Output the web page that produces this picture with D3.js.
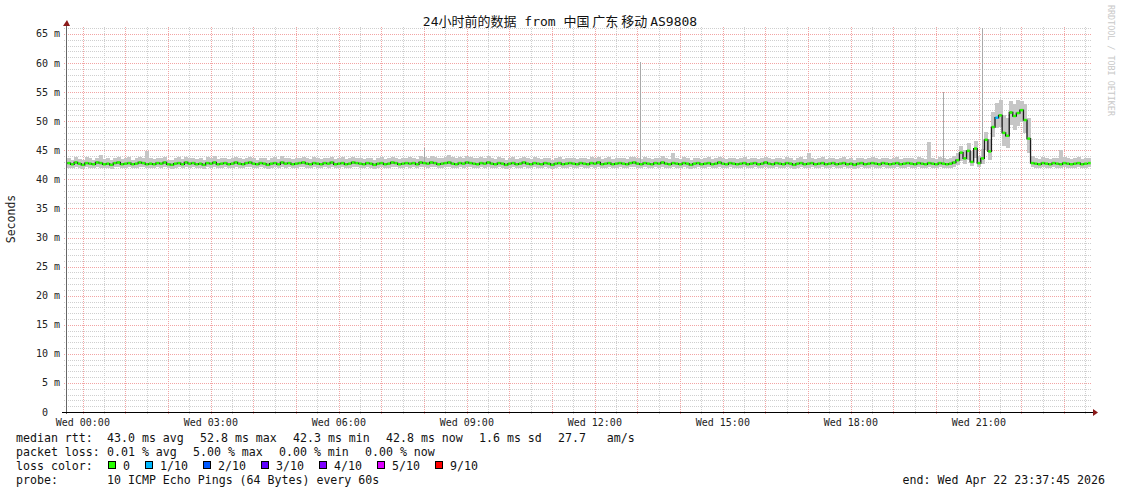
<!DOCTYPE html>
<html><head><meta charset="utf-8">
<script src="https://cdn.jsdelivr.net/npm/d3@7"></script>
<style>
body{margin:0;background:#fff}
text{white-space:pre}
</style>
</head><body>
<svg id="c" width="1121" height="494"></svg>
<script>
// ---------------- data ----------------
const titleParts = [["24","mono"],["小时前的数据","cjk"],[" from ","mono"],["中国 广东 移动 ","cjk"],["AS9808","mono"]];
const yAxisTitle = "Seconds";
const yTicks = [0,5,10,15,20,25,30,35,40,45,50,55,60,65];
const yTickNums = ["0","5","10","15","20","25","30","35","40","45","50","55","60","65"];
const stepMinutes = 5;
const endTimeText = "end: Wed Apr 22 23:37:45 2026";
// median rtt (ms), one value per 5 minutes, 24 h
const median = [
42.8,42.6,42.9,42.7,42.5,42.8,42.7,42.6,42.9,42.8,42.6,42.7,42.5,42.8,42.9,42.6,42.7,42.8,42.6,42.7,42.9,42.8,42.6,42.7,
42.6,42.8,42.7,42.9,42.6,42.5,42.7,42.8,42.6,42.9,42.7,42.8,42.6,42.7,42.5,42.8,42.7,42.9,42.6,42.7,42.8,42.6,42.7,42.9,
42.7,42.6,42.8,42.9,42.7,42.6,42.8,42.7,42.5,42.7,42.8,42.6,42.9,42.7,42.8,42.6,42.7,42.8,42.9,42.7,42.6,42.8,42.7,42.6,
42.8,42.7,42.9,42.6,42.7,42.8,42.6,42.7,42.9,42.8,42.7,42.6,42.8,42.7,42.5,42.7,42.8,42.6,42.7,42.9,42.8,42.6,42.7,42.8,
42.7,42.8,42.6,42.9,42.8,42.7,42.9,42.8,42.6,42.7,42.8,42.9,42.7,42.6,42.8,42.7,42.9,42.8,42.7,42.6,42.8,42.7,42.9,42.7,
42.6,42.8,42.7,42.5,42.7,42.8,42.6,42.7,42.9,42.7,42.6,42.8,42.7,42.6,42.8,42.7,42.5,42.7,42.8,42.6,42.7,42.8,42.7,42.6,
42.8,42.7,42.6,42.8,42.7,42.9,42.6,42.7,42.8,42.6,42.7,42.8,42.7,42.6,42.8,42.9,42.7,42.6,42.8,42.7,42.6,42.8,42.7,42.9,
42.7,42.6,42.8,42.7,42.6,42.8,42.7,42.5,42.7,42.8,42.6,42.7,42.8,42.6,42.7,42.9,42.7,42.6,42.8,42.7,42.6,42.7,42.8,42.6,
42.7,42.8,42.6,42.7,42.9,42.7,42.6,42.8,42.7,42.6,42.8,42.7,42.5,42.7,42.8,42.6,42.7,42.8,42.6,42.7,42.8,42.6,42.7,42.8,
42.6,42.7,42.8,42.6,42.7,42.5,42.7,42.8,42.6,42.7,42.8,42.7,42.6,42.8,42.7,42.6,42.7,42.8,42.6,42.7,42.8,42.7,42.6,42.8,
42.7,42.6,42.8,42.7,42.6,42.8,42.7,42.6,42.7,42.9,43.3,44.6,43.6,44.9,43.0,45.3,42.8,43.6,46.8,44.8,49.0,50.6,51.0,48.0,
47.5,51.5,50.9,51.4,51.9,50.2,47.0,42.8,42.7,42.6,42.8,42.7,42.6,42.8,42.7,42.6,42.8,42.7,42.6,42.7,42.8,42.6,42.7,42.8
];
// smoke: highest ping per interval (ms)
const smokeHi = [
43.6,43.4,43.8,43.5,43.3,43.9,43.6,43.4,43.7,44.2,43.5,43.6,43.4,43.7,43.9,43.5,43.6,43.8,43.4,43.6,43.9,43.7,44.8,43.6,
43.5,43.7,43.6,43.9,43.4,43.3,43.6,43.8,43.5,43.9,43.6,43.7,43.5,43.6,43.3,43.8,43.6,44.0,43.5,43.6,43.7,43.5,43.6,43.9,
43.6,43.5,43.7,43.9,43.6,43.4,43.7,43.6,43.4,43.6,43.8,43.5,44.0,43.6,43.7,43.5,43.6,43.7,43.9,43.6,43.5,43.8,43.6,43.5,
43.7,43.6,43.9,43.5,43.6,43.8,43.5,43.6,43.9,43.7,43.6,43.5,43.7,43.6,43.4,43.6,43.8,43.5,43.6,43.9,43.7,43.5,43.6,43.7,
43.8,43.7,43.5,44.0,43.9,43.7,44.1,43.9,43.6,43.7,43.9,44.2,43.8,43.6,43.9,43.7,44.0,43.9,43.7,43.6,43.8,43.7,44.0,43.6,
43.5,43.8,43.6,43.4,43.6,43.8,43.5,43.6,43.9,43.6,43.5,43.8,43.6,43.5,43.7,43.6,43.4,43.6,43.8,43.5,43.6,43.7,43.6,43.5,
43.7,43.6,43.5,43.8,43.6,43.9,43.5,43.6,43.8,43.5,43.6,43.7,43.6,43.5,43.8,43.9,43.6,43.5,43.8,43.6,43.5,43.7,43.6,44.0,
43.6,43.5,44.5,43.6,43.5,43.8,43.6,43.4,43.6,43.7,43.5,43.6,43.8,43.5,43.6,43.9,43.6,43.5,43.7,43.6,43.5,43.6,43.8,43.5,
43.6,43.7,43.5,43.6,43.9,43.6,43.5,43.7,43.6,43.5,43.8,43.6,43.4,43.6,43.8,43.5,44.6,43.7,43.5,43.6,43.8,43.5,43.6,43.7,
43.5,43.6,43.8,43.5,43.6,43.4,43.6,43.7,43.5,43.6,43.8,43.6,43.5,43.7,43.6,43.5,43.6,43.8,43.5,43.6,43.7,43.6,43.5,43.8,
43.6,43.5,46.4,43.6,43.5,43.8,43.6,43.5,43.7,44.0,44.6,45.8,45.0,46.3,44.8,46.6,44.0,45.2,48.2,47.0,51.5,53.2,53.6,51.0,
50.5,53.4,53.0,53.6,53.5,53.0,50.5,44.0,43.6,43.5,43.8,43.6,43.5,43.7,43.6,45.0,43.8,43.6,43.5,43.6,43.8,43.5,43.6,43.7
];
// smoke: lowest ping per interval (ms)
const smokeLo = [
42.0,41.9,42.1,42.0,41.8,42.1,42.0,41.9,42.2,42.0,41.9,42.0,41.8,42.1,42.1,41.9,42.0,42.1,41.9,42.0,42.2,42.1,41.9,42.0,
41.9,42.1,42.0,42.2,41.9,41.8,42.0,42.1,41.9,42.2,42.0,42.1,41.9,42.0,41.8,42.1,42.0,42.2,41.9,42.0,42.1,41.9,42.0,42.2,
42.0,41.9,42.1,42.2,42.0,41.9,42.1,42.0,41.8,42.0,42.1,41.9,42.2,42.0,42.1,41.9,42.0,42.1,42.2,42.0,41.9,42.1,42.0,41.9,
42.1,42.0,42.2,41.9,42.0,42.1,41.9,42.0,42.2,42.1,42.0,41.9,42.1,42.0,41.8,42.0,42.1,41.9,42.0,42.2,42.1,41.9,42.0,42.1,
42.0,42.1,41.9,42.2,42.1,42.0,42.2,42.1,41.9,42.0,42.1,42.2,42.0,41.9,42.1,42.0,42.2,42.1,42.0,41.9,42.1,42.0,42.2,42.0,
41.9,42.1,42.0,41.8,42.0,42.1,41.9,42.0,42.2,42.0,41.9,42.1,42.0,41.9,42.1,42.0,41.8,42.0,42.1,41.9,42.0,42.1,42.0,41.9,
42.1,42.0,41.9,42.1,42.0,42.2,41.9,42.0,42.1,41.9,42.0,42.1,42.0,41.9,42.1,42.2,42.0,41.9,42.1,42.0,41.9,42.1,42.0,42.2,
42.0,41.9,42.1,42.0,41.9,42.1,42.0,41.8,42.0,42.1,41.9,42.0,42.1,41.9,42.0,42.2,42.0,41.9,42.1,42.0,41.9,42.0,42.1,41.9,
42.0,42.1,41.9,42.0,42.2,42.0,41.9,42.1,42.0,41.9,42.1,42.0,41.8,42.0,42.1,41.9,42.0,42.1,41.9,42.0,42.1,41.9,42.0,42.1,
41.9,42.0,42.1,41.9,42.0,41.8,42.0,42.1,41.9,42.0,42.1,42.0,41.9,42.1,42.0,41.9,42.0,42.1,41.9,42.0,42.1,42.0,41.9,42.1,
42.0,41.9,42.1,42.0,41.9,42.1,42.0,41.9,42.0,42.2,42.4,43.2,42.6,43.4,42.3,43.6,42.1,42.6,45.0,43.4,47.2,48.8,49.0,45.8,
45.4,49.4,48.5,49.2,49.8,48.0,44.5,42.1,42.0,41.9,42.1,42.0,41.9,42.1,42.0,41.9,42.1,42.0,41.9,42.0,42.1,41.9,42.0,42.1
];
// intervals with packet loss (index, lost pings of 10)
const lossIdx = [261];
const lossVal = [1];
// single tall ping spikes (index, max ms)
const spikeIdx = [100, 161, 246, 257];
const spikeMax = [45.4, 60.2, 55.1, 66.0];
// legend
const lossLabels = ["0","1/10","2/10","3/10","4/10","5/10","9/10"];
const lossLevels = [0,1,2,3,4,5,9];
const lossColors = ["#26ff00","#00b8ff","#0059ff","#5e00ff","#7e00ff","#dd00ff","#ff0000"];
const statRows = [
 ["median rtt:", ["43.0 ms avg","52.8 ms max","42.3 ms min","42.8 ms now","1.6 ms sd","27.7   am/s"]],
 ["packet loss:", ["0.01 % avg","5.00 % max","0.00 % min","0.00 % now"]],
 ["loss color:", []],
 ["probe:", ["10 ICMP Echo Pings (64 Bytes) every 60s"]]
];

// ---------------- drawing ----------------
const MONO = "'DejaVu Sans Mono', monospace";
const CJK = "'Noto Sans CJK SC', sans-serif";
const svg = d3.select("#c");
svg.append("rect").attr("width",1121).attr("height",494).attr("fill","#fff");

const X0 = 67, X1 = 1091, Y0 = 412, Y1 = 27;
const t0 = new Date(2026,3,21,23,37,45), t1 = new Date(2026,3,22,23,37,45);
const x = d3.scaleTime().domain([t0,t1]).range([X0,X1]);
const y = d3.scaleLinear().domain([0,66.2]).range([Y0,Y1]);
const STEP = stepMinutes*60*1000;
const timeAt = i => new Date(+t0 + i*STEP);
const lossOf = i => { const k = lossIdx.indexOf(i); return k<0 ? 0 : lossVal[k]; };
const colorOf = l => lossColors[Math.max(0, lossLevels.indexOf(l))];
const cr = v => Math.round(v) + 0.5;

// grid
const grid = svg.append("g").attr("fill","none").attr("stroke-width",1).attr("stroke-dasharray","1,1").attr("shape-rendering","crispEdges");
const GRAY = "#cfcfcf", RED = "#f2a4a4";
for (let v = 1; v <= 66; v++) {
  if (v % 5 === 0) continue;
  grid.append("line").attr("x1",64).attr("x2",X1).attr("y1",cr(y(v))).attr("y2",cr(y(v))).attr("stroke",GRAY);
}
x.ticks(d3.timeMinute.every(30)).filter(t=>t.getMinutes()!==0).forEach(t=>{
  grid.append("line").attr("x1",cr(x(t))).attr("x2",cr(x(t))).attr("y1",Y1).attr("y2",Y0+2).attr("stroke",GRAY);
});
yTicks.filter(v=>v>0).forEach(v=>{
  grid.append("line").attr("x1",64).attr("x2",X1).attr("y1",cr(y(v))).attr("y2",cr(y(v))).attr("stroke",RED);
});
x.ticks(d3.timeHour.every(1)).forEach(t=>{
  grid.append("line").attr("x1",cr(x(t))).attr("x2",cr(x(t))).attr("y1",Y1).attr("y2",Y0+3).attr("stroke",RED);
});

// smoke
const smoke = svg.append("g").attr("shape-rendering","crispEdges");
median.forEach((m,i)=>{
  const xa = x(timeAt(i)), xb = x(timeAt(i+1));
  smoke.append("rect").attr("x",xa).attr("width",xb-xa+0.4)
    .attr("y",y(smokeHi[i])).attr("height",y(smokeLo[i])-y(smokeHi[i])).attr("fill","#c6c6c6");
});
// spikes
spikeIdx.forEach((idx,k)=>{
  const xx = cr(x(timeAt(idx))+1);
  svg.append("line").attr("x1",xx).attr("x2",xx).attr("y1",y(median[idx])).attr("y2",y(spikeMax[k]))
    .attr("stroke","#a9a9a9").attr("stroke-width",1).attr("shape-rendering","crispEdges");
});
// median connector (dark)
const medLine = d3.line().x((d,i)=>x(timeAt(i))).y(d=>y(d)).curve(d3.curveStepAfter);
svg.append("path").attr("d",medLine(median)).attr("fill","none").attr("stroke","#1a1a1a").attr("stroke-width",1.3);
// median bars coloured by loss
const med = svg.append("g");
median.forEach((m,i)=>{
  const xa = x(timeAt(i)), xb = x(timeAt(i+1));
  med.append("rect").attr("x",xa+0.3).attr("width",xb-xa-0.6).attr("y",y(m)-1.25).attr("height",2.5).attr("fill",colorOf(lossOf(i)));
});

// axes
svg.append("line").attr("x1",cr(X0)-1).attr("x2",cr(X0)-1).attr("y1",Y1-2).attr("y2",Y0+2)
  .attr("stroke","#666").attr("stroke-width",1).attr("shape-rendering","crispEdges");
svg.append("line").attr("x1",62).attr("x2",X1+2).attr("y1",cr(Y0)).attr("y2",cr(Y0))
  .attr("stroke","#000").attr("stroke-width",1).attr("shape-rendering","crispEdges");
svg.append("path").attr("d",`M${X0-4},${Y1-1}L${X0},${Y1-7}L${X0+3},${Y1-1}Z`).attr("fill","#8b1a1a");
svg.append("path").attr("d",`M${X1+2},${Y0-3}L${X1+7},${Y0+0.5}L${X1+2},${Y0+4}Z`).attr("fill","#8b1a1a");

// y tick labels
const ylab = svg.append("g").attr("font-family",MONO).attr("font-size",10).attr("fill","#222");
yTicks.forEach((v,k)=>{
  ylab.append("text").attr("x",48).attr("y",y(v)+3.5).attr("text-anchor","end").text(yTickNums[k]);
  if (v>0) ylab.append("text").attr("x",54).attr("y",y(v)+3.5).text("m");
});
// x tick labels
const fmt = d3.timeFormat("%a %H:%M");
x.ticks(d3.timeHour.every(3)).forEach(t=>{
  ylab.append("text").attr("x",x(t)).attr("y",426).attr("text-anchor","middle").text(fmt(t));
});

// y title
svg.append("text").attr("transform","translate(15,219) rotate(-90)").attr("text-anchor","middle")
  .attr("font-family",MONO).attr("font-size",11.5).attr("fill","#222").text(yAxisTitle);

// title
const tt = svg.append("text").attr("x",560).attr("y",26).attr("text-anchor","middle").attr("font-size",13).attr("fill","#111");
titleParts.forEach(p=>tt.append("tspan").attr("font-family",p[1]==="cjk"?CJK:MONO).text(p[0]));

// watermark
svg.append("text").attr("transform","translate(1108,5) rotate(90)").attr("font-family",MONO)
  .attr("font-size",8.4).attr("fill","#c8c8c8").text("RRDTOOL / TOBI OETIKER");

// legend / stats
const CW = 7, GAP = 16;
const leg = svg.append("g").attr("font-family",MONO).attr("font-size",11.6).attr("fill","#111");
const rowY = [442,456,470,484];
statRows.forEach((row,k)=>{
  leg.append("text").attr("x",16).attr("y",rowY[k]).text(row[0]);
  let px = 107;
  row[1].forEach(item=>{
    leg.append("text").attr("x",px).attr("y",rowY[k]).text(item);
    px += item.length*CW + GAP;
  });
});
let bx = 108;
lossLabels.forEach((lab,k)=>{
  leg.append("rect").attr("x",bx+0.5).attr("y",rowY[2]-8.5).attr("width",7).attr("height",7)
    .attr("fill",lossColors[k]).attr("stroke","#000").attr("stroke-width",1).attr("shape-rendering","crispEdges");
  const lx = bx + 15;
  leg.append("text").attr("x",lx).attr("y",rowY[2]).text(lab);
  bx = lx + lab.length*CW + 15;
});
leg.append("text").attr("x",1105).attr("y",rowY[3]).attr("text-anchor","end").text(endTimeText);
</script>
</body></html>
